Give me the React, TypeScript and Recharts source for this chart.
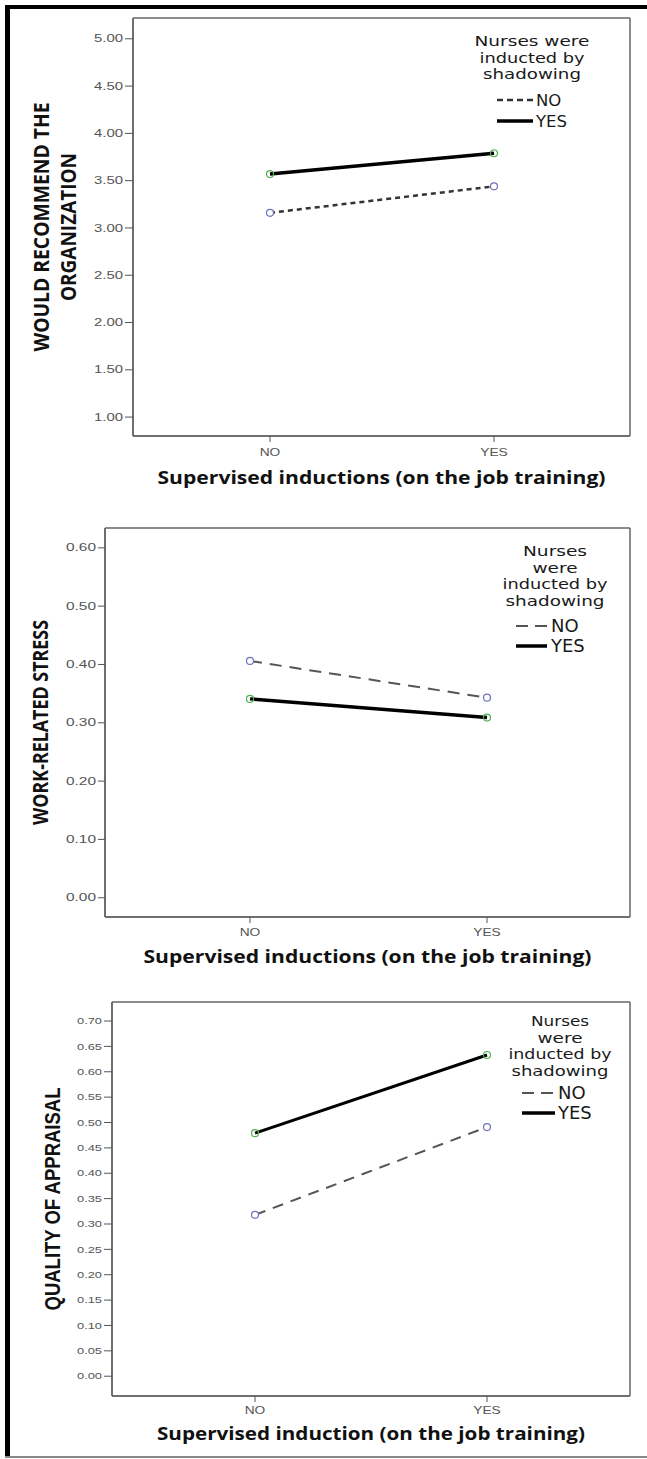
import React from 'react';
import { LineChart, Line, XAxis, YAxis, Legend, CartesianGrid } from 'recharts';

// ---------- data ----------
const categories = ['NO', 'YES'];
const recommendNo = [3.16, 3.44];
const recommendYes = [3.57, 3.79];
const stressNo = [0.406, 0.343];
const stressYes = [0.341, 0.309];
const appraisalNo = [0.318, 0.491];
const appraisalYes = [0.479, 0.633];

const recommendTicks = [1, 1.5, 2, 2.5, 3, 3.5, 4, 4.5, 5];
const stressTicks = [0, 0.1, 0.2, 0.3, 0.4, 0.5, 0.6];
const appraisalTicks = [0, 0.05, 0.1, 0.15, 0.2, 0.25, 0.3, 0.35, 0.4, 0.45, 0.5, 0.55, 0.6, 0.65, 0.7];

const legendTitleA = ['Nurses were', 'inducted by', 'shadowing'];
const legendTitleB = ['Nurses', 'were', 'inducted by', 'shadowing'];
const seriesNames = ['NO', 'YES'];

const buildRows = (no: number[], yes: number[]) =>
  categories.map((c, i) => ({ cat: c, no: no[i], yes: yes[i] }));

// ---------- styles / layout ----------
const W = 647;
const SANS = "'Liberation Sans', Arial, sans-serif";
const TITLE = "'Open Sans', 'DejaVu Sans', sans-serif";
const LEG = "'DejaVu Sans', sans-serif";

type Cfg = {
  top: number; height: number; marginTop: number; marginRight: number;
  yWidth: number; xHeight: number; padL: number; padR: number;
  domain: [number, number]; ticks: number[];
  yTickSize: number; yTickMargin: number; yTickFont: number; yTickLen: number;
  xTickBase: number;
  xTitle: string; xTitleLen: number; xTitleBase: number;
  yTitle: string[]; yTitleX: number[]; yTitleLen: number[]; yTitleFont: number; yTitleFamily: string;
  legTitle: string[]; legTitleLen: number[]; legCx: number; legTitleY: number[]; legTitleFont: number;
  legItemY: number[]; legLineX1: number; legLineX2: number; legTextX: number; legItemFont: number;
  legDash: string;
  dash: string; dashColor: string; dashWidth: number; solidWidth: number;
  no: number[]; yes: number[];
};

const charts: Cfg[] = [
  {
    top: 0, height: 500, marginTop: 18, marginRight: 17, yWidth: 133, xHeight: 64,
    padL: 137, padR: 136, domain: [0.8, 5.22], ticks: recommendTicks,
    yTickSize: 8, yTickMargin: 2, yTickFont: 10, yTickLen: 29, xTickBase: 12,
    xTitle: 'Supervised inductions (on the job training)', xTitleLen: 448, xTitleBase: 48,
    yTitle: ['WOULD RECOMMEND THE', 'ORGANIZATION'], yTitleX: [49, 76], yTitleLen: [249, 148],
    yTitleFont: 22, yTitleFamily: TITLE,
    legTitle: legendTitleA, legTitleLen: [115, 105, 98], legCx: 532, legTitleY: [46, 62.5, 79], legTitleFont: 14,
    legItemY: [106, 127], legLineX1: 497, legLineX2: 533, legTextX: 536, legItemFont: 16.5,
    legDash: '6 4',
    dash: '5 4', dashColor: '#333', dashWidth: 2.5, solidWidth: 3.5,
    no: recommendNo, yes: recommendYes,
  },
  {
    top: 500, height: 480, marginTop: 28, marginRight: 17, yWidth: 105, xHeight: 63,
    padL: 145, padR: 143, domain: [-0.033, 0.634], ticks: stressTicks,
    yTickSize: 7, yTickMargin: 2, yTickFont: 10, yTickLen: 30, xTickBase: 11,
    xTitle: 'Supervised inductions (on the job training)', xTitleLen: 448, xTitleBase: 46,
    yTitle: ['WORK-RELATED STRESS'], yTitleX: [48], yTitleLen: [205],
    yTitleFont: 22, yTitleFamily: TITLE,
    legTitle: legendTitleB, legTitleLen: [64, 45, 105, 99], legCx: 555, legTitleY: [56, 72.5, 89, 105.5], legTitleFont: 14,
    legItemY: [132, 152], legLineX1: 516, legLineX2: 547, legTextX: 551, legItemFont: 18,
    legDash: '12 7',
    dash: '12 8', dashColor: '#555', dashWidth: 2, solidWidth: 3.5,
    no: stressNo, yes: stressYes,
  },
  {
    top: 980, height: 479, marginTop: 22, marginRight: 17, yWidth: 112, xHeight: 63,
    padL: 143, padR: 143, domain: [-0.039, 0.7375], ticks: appraisalTicks,
    yTickSize: 8, yTickMargin: 2, yTickFont: 9, yTickLen: 25, xTickBase: 10,
    xTitle: 'Supervised induction (on the job training)', xTitleLen: 428, xTitleBase: 44,
    yTitle: ['QUALITY OF APPRAISAL'], yTitleX: [60], yTitleLen: [223],
    yTitleFont: 22, yTitleFamily: SANS,
    legTitle: legendTitleB, legTitleLen: [58, 45, 103, 97], legCx: 560, legTitleY: [46, 62.5, 79, 95.5], legTitleFont: 14,
    legItemY: [119, 139], legLineX1: 522, legLineX2: 555, legTextX: 558, legItemFont: 18,
    legDash: '12 7',
    dash: '11 8', dashColor: '#555', dashWidth: 2, solidWidth: 3,
    no: appraisalNo, yes: appraisalYes,
  },
];

const AXIS = '#666';

const YTick = (p: any) => {
  const { x, y, payload, cfg } = p;
  return (
    <text x={x} y={y + cfg.yTickFont * 0.36} textAnchor="end" fontSize={cfg.yTickFont}
      fill="#555" fontFamily={SANS} textLength={cfg.yTickLen} lengthAdjust="spacingAndGlyphs">
      {Number(payload.value).toFixed(2)}
    </text>
  );
};

const XTick = (p: any) => {
  const { x, y, payload, cfg } = p;
  return (
    <text transform={`translate(${x},${y + cfg.xTickBase}) scale(1.25,1)`} textAnchor="middle"
      fontSize={11} fill="#555" fontFamily={SANS}>
      {payload.value}
    </text>
  );
};

const Chart = ({ cfg }: { cfg: Cfg }) => {
  const rows = buildRows(cfg.no, cfg.yes);
  const plotH = cfg.height - cfg.marginTop - cfg.xHeight;
  const plotW = W - cfg.yWidth - cfg.marginRight;

  const xTitle = (p: any) => {
    const vb = p.viewBox || { x: cfg.yWidth, y: cfg.marginTop + plotH, width: plotW, height: cfg.xHeight };
    return (
      <text x={vb.x + vb.width / 2} y={vb.y + cfg.xTitleBase} textAnchor="middle" fontSize={17}
        fontWeight={700} fontFamily={TITLE} fill="#111" textLength={cfg.xTitleLen}
        lengthAdjust="spacingAndGlyphs">
        {cfg.xTitle}
      </text>
    );
  };

  const yTitle = (p: any) => {
    const vb = p.viewBox || { x: 0, y: cfg.marginTop, width: cfg.yWidth, height: plotH };
    const cy = vb.y + vb.height / 2;
    return (
      <g>
        {cfg.yTitle.map((t, i) => (
          <text key={i} transform={`translate(${cfg.yTitleX[i]},${cy}) rotate(-90)`} textAnchor="middle"
            fontSize={cfg.yTitleFont} fontWeight={700} fontFamily={cfg.yTitleFamily} fill="#111"
            textLength={cfg.yTitleLen[i]} lengthAdjust="spacingAndGlyphs">
            {t}
          </text>
        ))}
      </g>
    );
  };

  const legend = (p: any) => {
    const items = (p && p.payload && p.payload.length ? p.payload : seriesNames.map((n) => ({ value: n, dataKey: n.toLowerCase() })));
    return (
      <svg width={W} height={cfg.height} style={{ display: 'block', overflow: 'visible' }}>
        {cfg.legTitle.map((t, i) => (
          <text key={i} x={cfg.legCx} y={cfg.legTitleY[i]} textAnchor="middle" fontSize={cfg.legTitleFont}
            fontFamily={LEG} fill="#1a1a1a" textLength={cfg.legTitleLen[i]} lengthAdjust="spacingAndGlyphs">{t}</text>
        ))}
        {items.map((it: any, i: number) => {
          const y = cfg.legItemY[i];
          const dashed = it.dataKey === 'no';
          return (
            <g key={i}>
              <line x1={cfg.legLineX1} x2={cfg.legLineX2} y1={y - 6} y2={y - 6}
                stroke={dashed ? cfg.dashColor : '#000'} strokeWidth={dashed ? cfg.dashWidth : 3.5}
                strokeDasharray={dashed ? cfg.legDash : undefined} />
              <text x={cfg.legTextX} y={y} fontSize={cfg.legItemFont} fontFamily={LEG} fill="#1a1a1a">{it.value}</text>
            </g>
          );
        })}
      </svg>
    );
  };

  return (
    <div style={{ position: 'absolute', left: 0, top: cfg.top, width: W, height: cfg.height }}>
      <LineChart width={W} height={cfg.height} data={rows}
        margin={{ top: cfg.marginTop, right: cfg.marginRight, left: 0, bottom: 0 }}>
        <CartesianGrid stroke={AXIS} strokeWidth={1.5}
          horizontalCoordinatesGenerator={(a: any) => [a.offset.top, a.offset.top + a.offset.height]}
          verticalCoordinatesGenerator={(a: any) => [a.offset.left, a.offset.left + a.offset.width]} />
        <XAxis dataKey="cat" type="category" interval={0} padding={{ left: cfg.padL, right: cfg.padR }}
          height={cfg.xHeight} tickSize={6} tickMargin={2} axisLine={{ stroke: AXIS, strokeWidth: 1.5 }}
          tickLine={{ stroke: '#555' }} tick={(p: any) => <XTick {...p} cfg={cfg} />} label={{ content: xTitle }} />
        <YAxis type="number" domain={cfg.domain} ticks={cfg.ticks} interval={0} allowDataOverflow
          width={cfg.yWidth} tickSize={cfg.yTickSize} tickMargin={cfg.yTickMargin}
          axisLine={{ stroke: AXIS, strokeWidth: 1.5 }} tickLine={{ stroke: '#555' }}
          tick={(p: any) => <YTick {...p} cfg={cfg} />} label={{ content: yTitle }} />
        <Legend layout="horizontal" verticalAlign="middle" align="center" content={legend}
          wrapperStyle={{ position: 'absolute', left: 0, top: 0, width: W, height: cfg.height, pointerEvents: 'none' }} />
        <Line dataKey="no" name="NO" stroke={cfg.dashColor} strokeWidth={cfg.dashWidth}
          strokeDasharray={cfg.dash} isAnimationActive={false}
          dot={{ r: 3.5, stroke: '#6f72b8', strokeWidth: 1.2, fill: '#fff', strokeDasharray: '' }}
          activeDot={false} />
        <Line dataKey="yes" name="YES" stroke="#000" strokeWidth={cfg.solidWidth} isAnimationActive={false}
          dot={{ r: 3.5, stroke: '#4fb04f', strokeWidth: 1.2, fill: 'none' }} activeDot={false} />
      </LineChart>
    </div>
  );
};

export default function App() {
  return (
    <div style={{ position: 'absolute', left: 0, top: 0, width: W, height: 1459, background: '#fff', overflow: 'hidden' }}>
      {charts.map((c, i) => <Chart key={i} cfg={c} />)}
      <div style={{ position: 'absolute', left: 5, top: 5, width: W - 5, height: 4, background: '#000' }} />
      <div style={{ position: 'absolute', left: 5, top: 5, width: 5, height: 1453, background: '#000' }} />
      <div style={{ position: 'absolute', left: 5, top: 1456, width: W - 5, height: 2, background: '#888' }} />
    </div>
  );
}
